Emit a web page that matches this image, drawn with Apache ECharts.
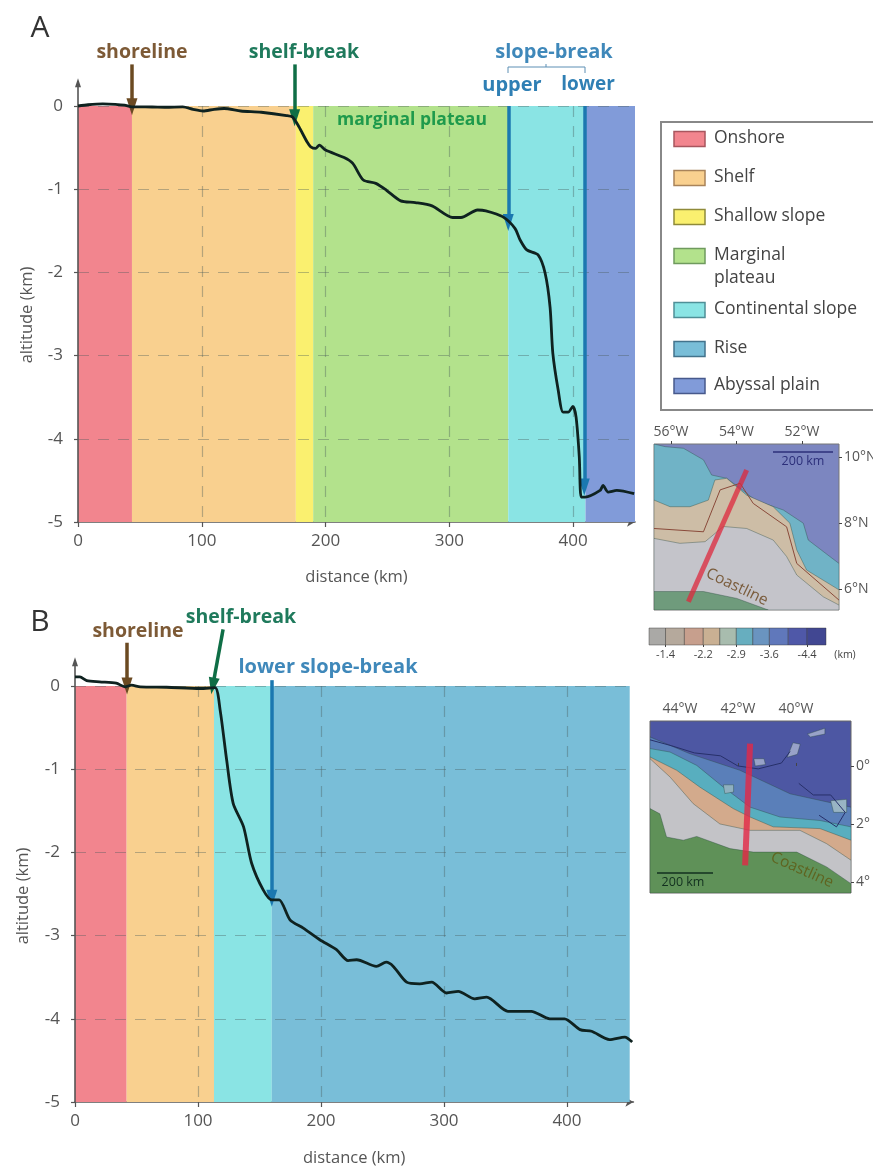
<!DOCTYPE html>
<html><head><meta charset="utf-8">
<style>html,body{margin:0;padding:0;background:#fff}#c{width:873px;height:1168px}</style>
<script src="https://cdn.jsdelivr.net/npm/echarts@6/dist/echarts.min.js"></script>
</head><body><div id="c"></div>
<script>
// ---------- profile data (distance km, altitude km) ----------
const profileA = [[0,0],[8,.015],[20,.025],[30,.02],[37.6,.01],[43.6,-.01],[60,-.012],[71,-.015],[84.6,-.01],[93,-.04],[101,-.06],[110,-.04],[118,-.03],[131.5,-.06],[148,-.075],[168.5,-.115],[173.5,-.135],[178.5,-.25],[185,-.43],[188,-.49],[192,-.51],[195,-.47],[200,-.53],[215,-.62],[222,-.69],[230.5,-.89],[240.6,-.93],[249,-1.01],[260.7,-1.14],[272.5,-1.16],[286,-1.2],[302.7,-1.34],[309.4,-1.34],[322.8,-1.25],[329.5,-1.26],[343,-1.33],[353,-1.47],[357.2,-1.61],[362.6,-1.73],[371.7,-1.79],[377.4,-2.01],[381.4,-2.42],[383.6,-2.97],[387.9,-3.41],[391.9,-3.68],[396,-3.68],[399.8,-3.61],[402.4,-3.74],[405,-4.22],[406.5,-4.7],[409.7,-4.7],[421.8,-4.62],[424.2,-4.56],[428.3,-4.64],[435.3,-4.62],[449.3,-4.66]];
const profileB = [[0,.11],[4,.11],[9.5,.065],[20,.05],[33.5,.035],[40.6,-.01],[46,.01],[53,-.01],[74.5,-.015],[101.6,-.03],[113.8,-.02],[118,-.29],[123.3,-.89],[128.6,-1.41],[137,-1.69],[143.6,-2.13],[153,-2.45],[160,-2.57],[166,-2.57],[174.8,-2.81],[185.6,-2.91],[199,-3.05],[212.6,-3.17],[222,-3.3],[229,-3.29],[245,-3.37],[253,-3.32],[258.8,-3.37],[269.6,-3.56],[280.3,-3.58],[290,-3.56],[302,-3.69],[311.6,-3.67],[325,-3.76],[334.7,-3.74],[352,-3.91],[371,-3.91],[386,-4],[398,-4],[410.6,-4.13],[420,-4.15],[434.6,-4.25],[447,-4.22],[453,-4.28]];

// ---------- zones ----------
const zoneNames  = ['Onshore','Shelf','Shallow slope','Marginal\nplateau','Continental slope','Rise','Abyssal plain'];
const zoneColors = ['#f2858e','#f9d08f','#faf06f','#b3e28c','#8ae4e4','#79bed8','#819bd9'];
const zoneBorders= ['#a8565e','#a9835a','#8f8a3a','#6f9a5e','#4f8f97','#43738c','#47598c'];
const zonesA = [[0,43.6,0],[43.6,176,1],[176,190,2],[190,347.6,3],[347.6,410,4],[410,450,6]];
const zonesB = [[0,42,0],[42,113,1],[113,160,4],[160,451,5]];

// ---------- axes ----------
const xTicks = [0,100,200,300,400];
const yTicks = [0,-1,-2,-3,-4,-5];
const gridXs = [100,200,300,400];
const gridYs = [0,-1,-2,-3,-4];

// ---------- arrows: [fromDist, fromAlt, toDist, toAlt] ----------
const arrowsA = {shore:[43.6,.5,43.6,-.01], shelf:[175,.5,175,-.14], upper:[347.6,0,347.6,-1.4], lower:[409,0,409,-4.58]};
const arrowsB = {shore:[42.3,.52,42.3,0], shelf:[120.4,.68,112,.0], lower:[160,.07,160,-2.55]};
const arrowColors = {shore:'#6b4a22', shelf:'#0f6e46', upper:'#1b78b0', lower:'#1b78b0'};

// ---------- inset map 1 (lon, lat) ----------
const m1Rise  = [[-56.52,10.39],[-56.18,10.31],[-55.62,10.26],[-55.01,9.91],[-54.76,9.45],[-54.3,9.35],[-53.69,8.9],[-53.44,8.69],[-52.57,8.39],[-51.96,7.99],[-51.81,7.48],[-51.15,6.98],[-50.87,6.77],[-50.87,5.36],[-56.52,5.36]];
const m1Slope = [[-56.52,8.69],[-56.03,8.49],[-55.42,8.49],[-54.86,8.69],[-54.66,9.3],[-54.3,9.35],[-53.69,8.84],[-52.88,8.49],[-52.37,7.99],[-52.16,7.18],[-51.86,6.57],[-50.87,5.97],[-50.87,5.36],[-56.52,5.36]];
const m1Shelf = [[-56.52,7.53],[-55.73,7.38],[-54.96,7.43],[-54.4,7.89],[-53.69,7.83],[-52.88,7.48],[-52.47,6.98],[-52.16,6.42],[-51.35,5.76],[-50.87,5.51],[-50.87,5.36],[-56.52,5.36]];
const m1Land  = [[-56.52,5.92],[-55.01,5.92],[-53.99,5.71],[-53.03,5.36],[-56.52,5.36]];
const m1Contour = [[-56.52,7.83],[-55.01,7.73],[-54.5,9.0],[-53.89,9.2],[-53.49,8.59],[-52.47,7.88],[-52.16,6.77],[-50.87,5.66]];
const m1Track = [[-53.69,9.6],[-55.47,5.61]];

// ---------- inset map 2 (lon, lat) ----------
const m2Mid   = [[-45.03,1.0],[-43.65,.42],[-41.93,-.15],[-40.2,-.96],[-38.1,-1.42],[-38.1,-4.38],[-45.03,-4.38]];
const m2Rise  = [[-45.03,.6],[-44.34,.48],[-43.42,.02],[-42.5,-.73],[-41.58,-1.42],[-40.55,-1.76],[-39.17,-1.88],[-38.1,-2.1],[-38.1,-4.38],[-45.03,-4.38]];
const m2Slope = [[-45.03,.31],[-44.11,-.15],[-43.31,-.73],[-42.16,-1.47],[-41.58,-1.76],[-40.78,-2.1],[-39.17,-2.16],[-38.1,-2.56],[-38.1,-4.38],[-45.03,-4.38]];
const m2Shelf = [[-45.03,.25],[-44.34,-.38],[-43.54,-1.3],[-42.62,-2.0],[-41.58,-2.22],[-39.86,-2.22],[-38.94,-2.68],[-38.1,-3.25],[-38.1,-4.38],[-45.03,-4.38]];
const m2Land  = [[-45.03,-1.47],[-44.69,-1.65],[-44.46,-2.45],[-43.88,-2.56],[-43.42,-2.43],[-42.27,-2.85],[-41.47,-2.97],[-39.97,-2.97],[-38.94,-3.48],[-38.1,-4.06],[-38.1,-4.38],[-45.03,-4.38]];
const m2Seamount1 = [[-40.1,.8],[-39.85,.75],[-39.95,.4],[-40.3,.3]];
const m2Seamount2 = [[-41.45,.25],[-41.1,.25],[-41.05,.05],[-41.4,0]];
const m2Seamount3 = [[-42.5,-.65],[-42.15,-.65],[-42.15,-.9],[-42.45,-.95]];
const m2Seamount4 = [[-38.8,-1.2],[-38.25,-1.15],[-38.25,-1.6],[-38.7,-1.6]];
const m2Seamount5 = [[-39.6,1.1],[-39,1.3],[-39,1.1],[-39.5,1.0]];
const m2Contour1 = [[-45.03,.9],[-44.3,.7],[-43.5,.45],[-42.6,.35],[-42,.0],[-41.3,-.1],[-40.5,.1],[-40.2,.5]];
const m2Contour2 = [[-39.9,-.6],[-39.4,-1.0],[-38.8,-1.0],[-38.3,-1.6],[-38.6,-2.1],[-39.2,-1.7]];
const m2Track = [[-41.58,.77],[-41.75,-3.43]];

// ---------- colour bar ----------
const barEdges  = [-1.05,-1.4,-1.8,-2.2,-2.55,-2.9,-3.25,-3.6,-4.0,-4.4,-4.8];
const barColors = ['#aaa9a6','#b5a99c','#c79f8d','#c9b093','#a8bcae','#67aebf','#6a94c0','#6078bb','#4f58a8','#414792'];
const barTicks  = [-1.4,-2.2,-2.9,-3.6,-4.4];

const FONT = '"Open Sans","Noto Sans",sans-serif';
const AXC = '#555';
const DASH = 'rgba(70,90,90,.38)';

function emptyMark(grid, z, extra){
  return Object.assign({type:'line',xAxisIndex:grid,yAxisIndex:grid,data:[],z:z,silent:true,animation:false,symbol:'none'},extra);
}
function zoneSeries(grid, zones){
  return emptyMark(grid,1,{markArea:{silent:true,animation:false,
    data:zones.map(z=>[{xAxis:z[0],yAxis:-5,itemStyle:{color:zoneColors[z[2]],opacity:1}},{xAxis:z[1],yAxis:0}])}});
}
function gridSeries(grid, xMax){
  const base={silent:true,animation:false,symbol:'none',label:{show:false},lineStyle:{color:DASH,type:[11,9],width:1.2}};
  return emptyMark(grid,2,{markLine:Object.assign({},base,{
    data:gridXs.map(x=>[{coord:[x,0]},{coord:[x,-5]}]).concat(gridYs.map(y=>[{coord:[0,y]},{coord:[xMax,y]}]))})});
}
function arrowSeries(grid, set){
  return Object.keys(set).map(k=>{
    const a=set[k];
    return emptyMark(grid,3,{markLine:{silent:true,animation:false,symbol:['none','triangle'],symbolSize:[11,17],label:{show:false},
      lineStyle:{color:arrowColors[k],width:3.5,type:'solid',opacity:1},itemStyle:{color:arrowColors[k]},
      data:[[{coord:[a[0],a[1]]},{coord:[a[2],a[3]]}]]}});
  });
}
function yAxisLine(grid, top){
  return emptyMark(grid,4,{markLine:{silent:true,animation:false,symbol:['none','triangle'],symbolSize:[6,9],label:{show:false},
    lineStyle:{color:AXC,width:1.6,type:'solid',opacity:1},data:[[{coord:[0,-5]},{coord:[0,top]}]]}});
}
function curve(grid, data){
  return {type:'line',xAxisIndex:grid,yAxisIndex:grid,data:data,z:5,symbol:'none',smooth:.25,animation:false,silent:true,clip:false,
    lineStyle:{color:'#0f2220',width:2.8}};
}
function polySeries(grid, polys, colors){
  return {type:'custom',xAxisIndex:grid,yAxisIndex:grid,animation:false,silent:true,z:3,clip:true,
    data:polys.map(p=>p[0]),
    renderItem:function(params,api){
      const pts=polys[params.dataIndex].map(p=>api.coord(p));
      return {type:'polygon',shape:{points:pts},style:{fill:colors[params.dataIndex],stroke:'rgba(40,70,60,.55)',lineWidth:.7}};
    }};
}
function pathSeries(grid, path, color, width){
  return {type:'line',xAxisIndex:grid,yAxisIndex:grid,data:path,z:4,symbol:'none',animation:false,silent:true,
    lineStyle:{color:color,width:width}};
}
function mainX(g,max,name,gap){
  return {gridIndex:g,type:'value',min:0,max:max,position:'bottom',name:name,nameLocation:'middle',nameGap:gap,
    nameTextStyle:{color:AXC,fontSize:16.5,fontFamily:FONT},splitLine:{show:false},
    axisLine:{show:true,onZero:false,symbol:['none','arrow'],symbolSize:[7,8],lineStyle:{color:AXC,width:1.6}},
    axisTick:{show:true,length:5,customValues:xTicks,lineStyle:{color:AXC,width:1.2}},
    axisLabel:{color:AXC,fontSize:17,fontFamily:FONT,margin:11,customValues:xTicks}};
}
function mainY(g){
  return {gridIndex:g,type:'value',min:-5,max:.7,splitLine:{show:false},axisLine:{show:false},
    axisTick:{show:true,length:4,customValues:yTicks,lineStyle:{color:AXC,width:1.2}},
    axisLabel:{color:AXC,fontSize:17,fontFamily:FONT,margin:15,customValues:yTicks}};
}
function mapX(g,min,max,ticks,fmt){
  return {gridIndex:g,type:'value',min:min,max:max,position:'top',splitLine:{show:false},axisLine:{show:false},
    axisTick:{show:true,length:3,customValues:ticks,lineStyle:{color:'#444'}},
    axisLabel:{color:'#555',fontSize:14,fontFamily:FONT,margin:5,customValues:ticks,formatter:fmt}};
}
function mapY(g,min,max,ticks,fmt){
  return {gridIndex:g,type:'value',min:min,max:max,position:'right',splitLine:{show:false},axisLine:{show:false},
    axisTick:{show:true,length:3,customValues:ticks,lineStyle:{color:'#444'}},
    axisLabel:{color:'#555',fontSize:14,fontFamily:FONT,margin:5,customValues:ticks,formatter:fmt}};
}

// ---------- annotation text & legend ----------
function txt(text,x,y,size,color,o){
  o=o||{};
  return {type:'text',z:100,x:x,y:y,rotation:o.rot||0,silent:true,
    style:{text:text,fontSize:size,fontFamily:o.font||FONT,fontWeight:o.weight||'normal',fill:color,align:o.align||'center',verticalAlign:'middle',lineHeight:o.lh||undefined}};
}
const BOLD={weight:'bold',font:'"Open Sans",sans-serif'};
const graphics=[
  txt('A',40,28,30,'#333'),
  txt('B',40,622,30,'#333'),
  txt('altitude (km)',27,315,16.5,AXC,{rot:Math.PI/2}),
  txt('altitude (km)',23,896,16.5,AXC,{rot:Math.PI/2}),
  txt('shoreline',142,52,19.5,'#7d5a36',BOLD),
  txt('shelf-break',304,52,19.5,'#1f7a5c',BOLD),
  txt('slope-break',554,52,20,'#3f88ba',BOLD),
  txt('upper',512,85,20,'#2f7fb4',BOLD),
  txt('lower',588,85,19,'#2f7fb4',BOLD),
  txt('marginal plateau',412,120,17.5,'#1f9a4c',BOLD),
  {type:'polyline',z:100,silent:true,shape:{points:[[508,73],[508,67],[585,67],[585,73]]},style:{stroke:'#5d8fb4',fill:null,lineWidth:1}},
  {type:'line',z:100,silent:true,shape:{x1:546,y1:64,x2:546,y2:67},style:{stroke:'#5d8fb4',lineWidth:1}},
  txt('shoreline',138,631,19.5,'#7d5a36',BOLD),
  txt('shelf-break',241,617,19.5,'#1f7a5c',BOLD),
  txt('lower slope-break',328,667,20,'#3f88ba',BOLD),
  // legend frame
  {type:'rect',z:90,silent:true,shape:{x:661,y:122,width:230,height:288},style:{fill:'#fff',stroke:'#888',lineWidth:2}},
  // inset notes
  {type:'line',z:100,silent:true,shape:{x1:773,y1:452,x2:833,y2:452},style:{stroke:'#2c2f7a',lineWidth:1.6}},
  txt('200 km',803,461,12.5,'#2c2f7a'),
  txt('Coastline',737,587,15.5,'#7a5c3c',{rot:-.45}),
  {type:'line',z:100,silent:true,shape:{x1:657,y1:873,x2:713,y2:873},style:{stroke:'#12301f',lineWidth:1.6}},
  txt('200 km',683,882,12.5,'#12301f'),
  txt('Coastline',802,870,15.5,'#5f6420',{rot:-.42}),
  txt('(km)',845,655,10.5,'#444')
];
const legendRows=[139,178,217,256,310,349,386];
zoneNames.forEach((n,i)=>{
  graphics.push({type:'rect',z:100,silent:true,shape:{x:674,y:legendRows[i]-7.5,width:31,height:15},
    style:{fill:zoneColors[i],stroke:zoneBorders[i],lineWidth:1.5}});
  graphics.push(txt(n,714,legendRows[i]-1,17.5,'#444',{align:'left',lh:23}));
});
graphics.forEach((g,i)=>{ if(g.type==='text'&&g.style.text==='Marginal\nplateau'){ g.y=legendRows[3]+11; } });

const barSeries={type:'custom',xAxisIndex:4,yAxisIndex:4,animation:false,silent:true,
  data:barColors.map((c,i)=>[barEdges[i],barEdges[i+1]]),
  renderItem:function(params,api){
    const a=api.coord([api.value(0),0]),b=api.coord([api.value(1),1]);
    return {type:'rect',shape:{x:a[0],y:b[1],width:b[0]-a[0],height:a[1]-b[1]},
      style:{fill:barColors[params.dataIndex],stroke:'rgba(50,50,50,.55)',lineWidth:.8}};
  }};

const option={
  backgroundColor:'#fff',animation:false,
  grid:[
    {outerBoundsMode:'none',left:78,width:557,top:47.76,height:474.24},
    {outerBoundsMode:'none',left:75,width:558.4,top:627.76,height:474.24},
    {outerBoundsMode:'none',left:654,width:185,top:444,height:166,show:true,backgroundColor:'#7c86c0',borderColor:'#777',borderWidth:1},
    {outerBoundsMode:'none',left:650,width:201,top:721,height:172,show:true,backgroundColor:'#4d57a3',borderColor:'#666',borderWidth:1},
    {outerBoundsMode:'none',left:649,width:177,top:628,height:17}
  ],
  xAxis:[
    mainX(0,450,'distance (km)',47),
    mainX(1,454,'distance (km)',48),
    mapX(2,-56.52,-50.87,[-56,-54,-52],v=>Math.abs(v)+'°W'),
    mapX(3,-45.03,-38.1,[-44,-42,-40],v=>Math.abs(v)+'°W'),
    {gridIndex:4,type:'value',min:-4.8,max:-1.05,inverse:true,splitLine:{show:false},axisLine:{show:false},
      axisTick:{show:true,length:2,customValues:barTicks,lineStyle:{color:'#444'}},
      axisLabel:{color:'#444',fontSize:11,fontFamily:FONT,margin:4,customValues:barTicks,formatter:v=>v.toFixed(1)}}
  ],
  yAxis:[
    mainY(0),mainY(1),
    mapY(2,5.36,10.39,[10,8,6],v=>v+'°N'),
    mapY(3,-4.38,1.55,[0,-2,-4],v=>Math.abs(v)+'°'),
    {gridIndex:4,type:'value',min:0,max:1,show:false}
  ],
  graphic:{elements:graphics},
  series:[
    zoneSeries(0,zonesA),gridSeries(0,450),yAxisLine(0,.28),...arrowSeries(0,arrowsA),curve(0,profileA),
    zoneSeries(1,zonesB),gridSeries(1,451),yAxisLine(1,.29),...arrowSeries(1,arrowsB),curve(1,profileB),
    polySeries(2,[m1Rise,m1Slope,m1Shelf,m1Land],['#70b3c6','#cdbda6','#c4c4ca','#6f9b7c']),
    pathSeries(2,m1Contour,'#8a4a3a',1),
    pathSeries(2,m1Track,'rgba(222,40,60,.75)',5),
    polySeries(3,[m2Mid,m2Rise,m2Slope,m2Shelf,m2Land,m2Seamount1,m2Seamount2,m2Seamount3,m2Seamount4,m2Seamount5],
      ['#5a7fb9','#58aebf','#d3aa8c','#c3c3c7','#5f9158','#98a2c8','#98a2c8','#8fb0c0','#98b4c4','#98a2c8']),
    pathSeries(3,m2Contour1,'#27306a',1),
    pathSeries(3,m2Contour2,'#27306a',1),
    pathSeries(3,m2Track,'rgba(228,40,70,.8)',6),
    barSeries
  ]
};
echarts.init(document.getElementById('c'),null,{renderer:'canvas'}).setOption(option);
</script></body></html>
